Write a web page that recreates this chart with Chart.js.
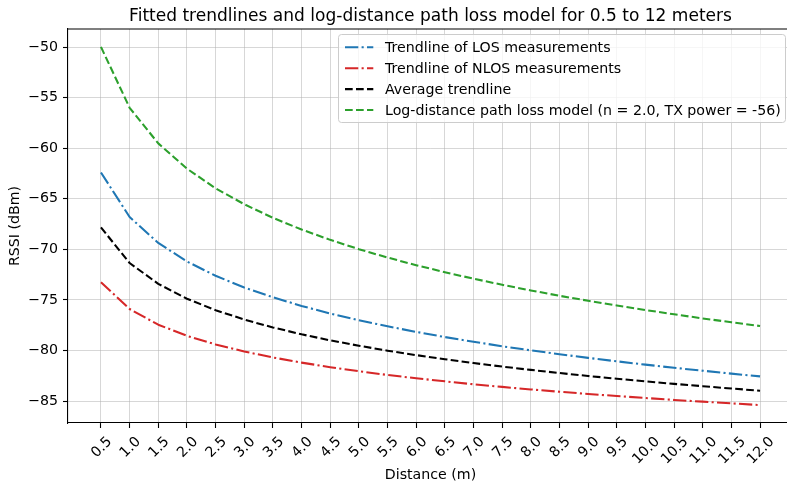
<!DOCTYPE html>
<html>
<head>
<meta charset="utf-8">
<script src="https://cdn.jsdelivr.net/npm/chart.js@4.4.1/dist/chart.umd.min.js"></script>
<style>
html, body { margin: 0; padding: 0; background: #fff; overflow: hidden; }
#wrap { width: 787px; height: 487px; overflow: hidden; }
</style>
</head>
<body>
<div id="wrap"><canvas id="chart_rssi" width="800" height="487"></canvas></div>
<script>
// distances in meters
var distances = [0.5, 1.0, 1.5, 2.0, 2.5, 3.0, 3.5, 4.0, 4.5, 5.0, 5.5, 6.0,
                 6.5, 7.0, 7.5, 8.0, 8.5, 9.0, 9.5, 10.0, 10.5, 11.0, 11.5, 12.0];

// RSSI values (dBm)
var losTrend = [-62.40, -66.80, -69.37, -71.20, -72.61, -73.77, -74.74, -75.59,
                -76.34, -77.00, -77.61, -78.16, -78.67, -79.14, -79.58, -79.99,
                -80.37, -80.73, -81.07, -81.40, -81.71, -82.00, -82.29, -82.56];
var nlosTrend = [-73.25, -75.90, -77.45, -78.55, -79.40, -80.10, -80.69, -81.20,
                 -81.65, -82.05, -82.42, -82.75, -83.05, -83.34, -83.60, -83.85,
                 -84.08, -84.30, -84.50, -84.70, -84.89, -85.06, -85.23, -85.40];
var avgTrend = [-67.83, -71.35, -73.41, -74.88, -76.01, -76.94, -77.72, -78.40,
                -79.00, -79.53, -80.02, -80.46, -80.86, -81.24, -81.59, -81.92,
                -82.23, -82.52, -82.79, -83.05, -83.30, -83.53, -83.76, -83.98];
var pathLossModel = [-49.98, -56.00, -59.52, -62.02, -63.96, -65.54, -66.88, -68.04,
                     -69.06, -69.98, -70.81, -71.56, -72.26, -72.90, -73.50, -74.06,
                     -74.59, -75.08, -75.55, -76.00, -76.42, -76.83, -77.21, -77.58];

var rssiTicks = [-85, -80, -75, -70, -65, -60, -55, -50];

var chartTitle = 'Fitted trendlines and log-distance path loss model for 0.5 to 12 meters';

var FONT = 'DejaVu Sans';
var FS = 14.2;
var TITLE_FS = 17.05;
var LW = 2.08;
var DASH_DOT = [13.3, 3.3, 2.1, 3.3];
var DASHED = [7.7, 3.3];
var gridColor = 'rgba(176, 176, 176, 0.5)';

function toPoints(values) {
	return distances.map(function (d, i) { return { x: d, y: values[i] }; });
}

function lineSet(label, values, color, dash) {
	return {
		type: 'line',
		label: label,
		data: toPoints(values),
		borderColor: color,
		backgroundColor: color,
		borderWidth: LW,
		borderDash: dash,
		borderJoinStyle: 'round',
		pointRadius: 0,
		tension: 0,
		fill: false
	};
}

// title, top spine, rotated x labels and the legend box
var extras = {
	id: 'extras',
	afterDraw: function (chart) {
		var ctx = chart.ctx;
		var area = chart.chartArea;
		var xs = chart.scales.x;

		ctx.save();

		// top spine
		ctx.strokeStyle = '#000';
		ctx.lineWidth = 1.1;
		ctx.beginPath();
		ctx.moveTo(area.left, area.top);
		ctx.lineTo(area.right, area.top);
		ctx.stroke();

		// title
		ctx.fillStyle = '#000';
		ctx.font = TITLE_FS + 'px "' + FONT + '"';
		ctx.textAlign = 'center';
		ctx.textBaseline = 'alphabetic';
		ctx.fillText(chartTitle, (area.left + area.right) / 2, 20.7);

		// x tick labels, rotated 45 deg, box centred under the tick
		ctx.font = FS + 'px "' + FONT + '"';
		var y0 = area.bottom + 9.8;
		var h = FS * 1.164;
		distances.forEach(function (d) {
			var label = d.toFixed(1);
			var w = ctx.measureText(label).width;
			var cx = xs.getPixelForValue(d);
			var cy = y0 + (w + h) * Math.SQRT1_2 / 2;
			ctx.save();
			ctx.translate(cx, cy);
			ctx.rotate(-Math.PI / 4);
			ctx.textAlign = 'center';
			ctx.fillText(label, 0, 0.346 * FS);
			ctx.restore();
		});

		// legend
		var bx = 338.5, by = 34.5, bw = 447, bh = 88;
		ctx.beginPath();
		ctx.roundRect(bx, by, bw, bh, 3);
		ctx.fillStyle = 'rgba(255, 255, 255, 0.8)';
		ctx.fill();
		ctx.strokeStyle = '#cccccc';
		ctx.lineWidth = 1;
		ctx.stroke();

		var rowY = 47.3, rowStep = 20.9;
		chart.data.datasets.forEach(function (ds, i) {
			var y = rowY + i * rowStep;
			ctx.save();
			ctx.strokeStyle = ds.borderColor;
			ctx.lineWidth = LW;
			ctx.setLineDash(ds.borderDash);
			ctx.beginPath();
			ctx.moveTo(345, y);
			ctx.lineTo(373.3, y);
			ctx.stroke();
			ctx.restore();

			ctx.fillStyle = '#000';
			ctx.textAlign = 'left';
			ctx.fillText(ds.label, 385, y + 0.346 * FS);
		});

		ctx.restore();
	}
};

new Chart('chart_rssi', {
	data: {
		datasets: [
			lineSet('Trendline of LOS measurements', losTrend, '#1f77b4', DASH_DOT),
			lineSet('Trendline of NLOS measurements', nlosTrend, '#d62728', DASH_DOT),
			lineSet('Average trendline', avgTrend, '#000000', DASHED),
			lineSet('Log-distance path loss model (n = 2.0, TX power = -56)', pathLossModel, '#2ca02c', DASHED)
		]
	},
	options: {
		responsive: false,
		animation: false,
		devicePixelRatio: 1,
		layout: { padding: { top: 29, right: 7, left: 0, bottom: 0 } },
		plugins: {
			legend: { display: false },
			title: { display: false },
			tooltip: { enabled: false }
		},
		scales: {
			x: {
				type: 'linear',
				min: -0.075,
				max: 12.575,
				afterBuildTicks: function (scale) {
					scale.ticks = distances.map(function (v) { return { value: v }; });
				},
				afterFit: function (scale) { scale.height = 64; },
				ticks: { display: false },
				grid: { color: gridColor, lineWidth: 1, drawTicks: true, tickLength: 5, tickColor: '#000', tickWidth: 1.1 },
				border: { display: true, color: '#000', width: 1.1 },
				title: {
					display: true,
					text: 'Distance (m)',
					color: '#000',
					font: { family: FONT, size: FS },
					padding: { top: 0, bottom: 3.4 }
				}
			},
			y: {
				type: 'linear',
				min: -87.17,
				max: -48.21,
				afterBuildTicks: function (scale) {
					scale.ticks = rssiTicks.map(function (v) { return { value: v }; });
				},
				afterFit: function (scale) { scale.width = 68; },
				ticks: {
					autoSkip: false,
					color: '#000',
					font: { family: FONT, size: FS },
					padding: 4.9,
					callback: function (value) {
						return value < 0 ? '\u2212' + Math.abs(value) : String(value);
					}
				},
				grid: { color: gridColor, lineWidth: 1, drawTicks: true, tickLength: 5, tickColor: '#000', tickWidth: 1.1 },
				border: { display: true, color: '#000', width: 1.1 },
				title: {
					display: true,
					text: 'RSSI (dBm)',
					color: '#000',
					font: { family: FONT, size: FS },
					padding: { top: 6.5, bottom: 0 }
				}
			}
		}
	},
	plugins: [extras]
});
</script>
</body>
</html>
